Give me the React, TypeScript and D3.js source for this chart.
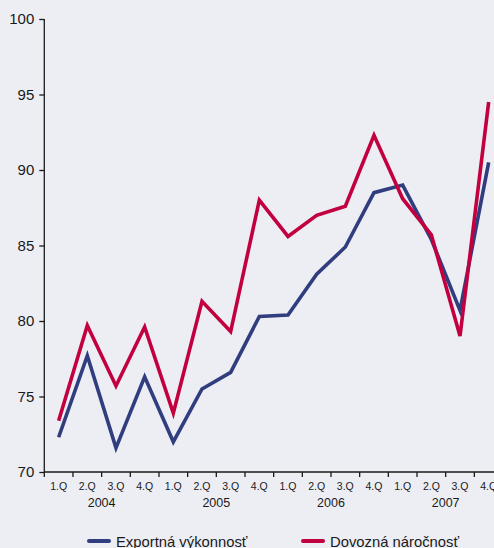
import React, { useEffect, useRef } from "react";
import * as d3 from "d3";

const quarters = ["1.Q", "2.Q", "3.Q", "4.Q", "1.Q", "2.Q", "3.Q", "4.Q", "1.Q", "2.Q", "3.Q", "4.Q", "1.Q", "2.Q", "3.Q", "4.Q"];
const years = ["2004", "2005", "2006", "2007"];
const exportPerformance = [72.3, 77.7, 71.6, 76.3, 72.0, 75.5, 76.6, 80.3, 80.4, 83.1, 84.9, 88.5, 89.0, 85.4, 80.7, 90.5];
const importIntensity = [73.4, 79.7, 75.7, 79.6, 73.9, 81.3, 79.3, 88.0, 85.6, 87.0, 87.6, 92.3, 88.1, 85.7, 79.0, 94.5];
const yTicks = [70, 75, 80, 85, 90, 95, 100];
const seriesNames = ["Exportná výkonnosť", "Dovozná náročnosť"];

const W = 494;
const H = 548;
const BG = "#edeef4";
const BLUE = "#303d7e";
const RED = "#c3003f";
const FONT = "'Liberation Sans', Arial, sans-serif";

export default function App() {
  const ref = useRef<SVGSVGElement | null>(null);

  useEffect(() => {
    const svg = d3.select(ref.current);
    svg.selectAll("*").remove();

    const left = 44.3;
    const step = 28.67;
    const idx = quarters.map((_, i) => String(i));
    const x = d3.scaleBand<string>().domain(idx).range([left, left + step * quarters.length]).padding(0);
    const y = d3.scaleLinear().domain([70, 100]).range([472, 19]);
    const cx = (i: number) => (x(String(i)) as number) + x.bandwidth() / 2;

    svg.append("rect").attr("width", W).attr("height", H).attr("fill", BG);

    // y axis
    const ya = svg.append("g").attr("transform", `translate(${left},0)`);
    ya.call(d3.axisLeft(y).tickValues(yTicks).tickSize(5).tickPadding(5).tickFormat(d3.format("d")) as any);
    ya.select(".domain").attr("stroke", "#1a1a1a").attr("stroke-width", 1.3).attr("d", `M0,${y(100)}V${y(70)}`);
    ya.selectAll(".tick line").attr("stroke", "#1a1a1a").attr("stroke-width", 1.3);
    ya.selectAll(".tick text")
      .attr("font-family", FONT)
      .attr("font-size", 15)
      .attr("fill", "#1a1a1a");

    // x axis
    const xa = svg.append("g").attr("transform", `translate(0,${y(70)})`);
    xa.append("line").attr("x1", left).attr("x2", W).attr("stroke", "#1a1a1a").attr("stroke-width", 1.3);
    d3.range(quarters.length + 1).forEach((i) => {
      const tx = left + step * i;
      xa.append("line").attr("x1", tx).attr("x2", tx).attr("y1", 0).attr("y2", 5).attr("stroke", "#1a1a1a").attr("stroke-width", 1.3);
    });
    quarters.forEach((q, i) => {
      xa.append("text")
        .attr("x", cx(i))
        .attr("y", 18)
        .attr("text-anchor", "middle")
        .attr("font-family", FONT)
        .attr("font-size", 10.5)
        .attr("fill", "#1a1a1a")
        .text(q);
    });
    years.forEach((yr, k) => {
      xa.append("text")
        .attr("x", left + step * (k * 4 + 2))
        .attr("y", 35)
        .attr("text-anchor", "middle")
        .attr("font-family", FONT)
        .attr("font-size", 12.5)
        .attr("fill", "#1a1a1a")
        .text(yr);
    });

    const line = d3
      .line<number>()
      .x((_, i) => cx(i))
      .y((d) => y(d));

    svg.append("path").datum(exportPerformance).attr("d", line).attr("fill", "none").attr("stroke", BLUE).attr("stroke-width", 3.6).attr("stroke-linejoin", "miter");
    svg.append("path").datum(importIntensity).attr("d", line).attr("fill", "none").attr("stroke", RED).attr("stroke-width", 3.6).attr("stroke-linejoin", "miter");

    // legend
    const legend = [
      { name: seriesNames[0], color: BLUE, x0: 89 },
      { name: seriesNames[1], color: RED, x0: 303 },
    ];
    legend.forEach((l) => {
      svg.append("line").attr("x1", l.x0).attr("x2", l.x0 + 20).attr("y1", 541).attr("y2", 541).attr("stroke", l.color).attr("stroke-width", 4).attr("stroke-linecap", "round");
      svg.append("text")
        .attr("x", l.x0 + 27)
        .attr("y", 547)
        .attr("font-family", FONT)
        .attr("font-size", 14.8)
        .attr("fill", "#1a1a1a")
        .text(l.name);
    });
  }, []);

  return <svg ref={ref} width={W} height={H} style={{ position: "absolute", left: 0, top: 0, display: "block" }} />;
}
